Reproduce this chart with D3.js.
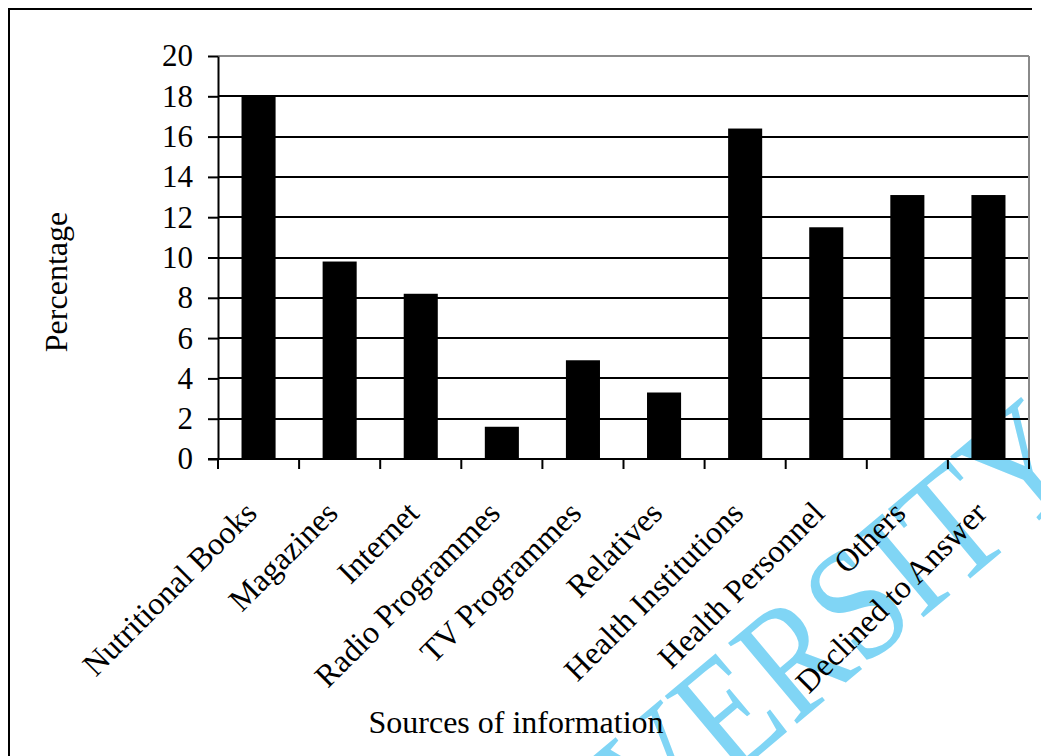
<!DOCTYPE html>
<html>
<head>
<meta charset="utf-8">
<script src="https://cdn.jsdelivr.net/npm/d3@7"></script>
<style>
  html, body { margin: 0; padding: 0; background: #ffffff; }
  svg { display: block; }
  text { font-family: "Liberation Serif", "Times New Roman", serif; fill: #000; }
</style>
</head>
<body>
<svg id="chart" width="1041" height="756"></svg>
<script>
// Sources of nutritional information, percentage of respondents
const categories = [
  "Nutritional Books", "Magazines", "Internet", "Radio Programmes",
  "TV Programmes", "Relatives", "Health Institutions", "Health Personnel",
  "Others", "Declined to Answer"
];
const percentages = [18.0, 9.8, 8.2, 1.6, 4.9, 3.3, 16.4, 11.5, 13.1, 13.1];
const yTickValues = [0, 2, 4, 6, 8, 10, 12, 14, 16, 18, 20];
const yAxisTitle = "Percentage";
const xAxisTitle = "Sources of information";
const watermarkText = "UNIVERSITY";

const svg = d3.select("#chart");
const W = 1041, H = 756;
const plot = { left: 218, right: 1029, top: 56, bottom: 459 };

// Watermark sits underneath everything else
svg.append("text")
  .attr("transform", "translate(1092,476) rotate(-40) scale(1,1.2)")
  .attr("text-anchor", "end")
  .style("font-size", "135px")
  .style("fill", "#80d5f5")
  .text(watermarkText);

// Outer frame (left and top edges)
svg.append("path")
  .attr("d", `M9,${H} L9,9 L1032,9`)
  .attr("fill", "none")
  .attr("stroke", "#000")
  .attr("stroke-width", 2);

const x = d3.scaleBand()
  .domain(categories)
  .range([plot.left, plot.right])
  .paddingInner(0.58)
  .paddingOuter(0.29);

const y = d3.scaleLinear()
  .domain([0, 20])
  .range([plot.bottom, plot.top]);

// Horizontal gridlines
svg.append("g")
  .selectAll("line")
  .data(yTickValues.filter(v => v > 0))
  .join("line")
  .attr("x1", plot.left)
  .attr("x2", plot.right)
  .attr("y1", d => Math.round(y(d)))
  .attr("y2", d => Math.round(y(d)))
  .attr("stroke", d => d === 20 ? "#8a8a8a" : "#000")
  .attr("stroke-width", 2);

// Right edge of the plot area
svg.append("line")
  .attr("x1", plot.right).attr("x2", plot.right)
  .attr("y1", y(20)).attr("y2", y(0))
  .attr("stroke", "#8a8a8a")
  .attr("stroke-width", 2);

// Bars
svg.append("g")
  .selectAll("rect")
  .data(categories.map((c, i) => ({ c, v: percentages[i] })))
  .join("rect")
  .attr("x", d => x(d.c))
  .attr("width", x.bandwidth())
  .attr("y", d => y(d.v))
  .attr("height", d => y(0) - y(d.v))
  .attr("fill", "#000");

// Y axis
const yAxis = svg.append("g")
  .attr("transform", `translate(${plot.left},0)`)
  .call(d3.axisLeft(y).tickValues(yTickValues).tickSize(10).tickPadding(15).tickSizeOuter(0));
yAxis.select(".domain").attr("stroke", "#000").attr("stroke-width", 2);
yAxis.selectAll(".tick line").attr("stroke", "#000").attr("stroke-width", 2);
yAxis.selectAll(".tick text")
  .style("font-size", "31px")
  .style("font-family", "'Liberation Serif', 'Times New Roman', serif")
  .attr("fill", "#000");

// X axis: ticks at band boundaries
const boundaries = d3.range(categories.length + 1).map(i => plot.left + i * x.step());
const xAxisG = svg.append("g");
xAxisG.append("line")
  .attr("x1", plot.left - 10).attr("x2", plot.right + 1)
  .attr("y1", y(0)).attr("y2", y(0))
  .attr("stroke", "#000").attr("stroke-width", 2);
xAxisG.selectAll("line.tick")
  .data(boundaries)
  .join("line")
  .attr("class", "tick")
  .attr("x1", d => d).attr("x2", d => d)
  .attr("y1", y(0)).attr("y2", y(0) + 10)
  .attr("stroke", "#000").attr("stroke-width", 2);

// Rotated category labels
svg.append("g")
  .selectAll("text")
  .data(categories)
  .join("text")
  .attr("transform", d => `translate(${x(d) + x.bandwidth() / 2},515) rotate(-45)`)
  .attr("text-anchor", "end")
  .style("font-size", "32px")
  .text(d => d);

// Axis titles
svg.append("text")
  .attr("transform", "translate(67,282) rotate(-90)")
  .attr("text-anchor", "middle")
  .style("font-size", "32px")
  .text(yAxisTitle);

svg.append("text")
  .attr("x", 516)
  .attr("y", 733)
  .attr("text-anchor", "middle")
  .style("font-size", "32px")
  .text(xAxisTitle);
</script>
</body>
</html>
